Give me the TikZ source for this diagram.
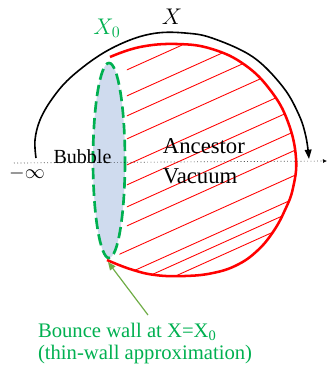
\RequirePackage{fix-cm}
\documentclass[tikz,border=0pt]{standalone}
\usepackage{fontspec}
\setmainfont{Liberation Serif}
\usetikzlibrary{arrows.meta}
\definecolor{redc}{HTML}{FF0000}
\definecolor{greenc}{HTML}{00B050}
\definecolor{olivec}{HTML}{70AD47}
\definecolor{bluefill}{HTML}{CFDBEE}
\tikzset{
  redarc/.style={draw=redc, line width=1.9pt},
  hatchline/.style={draw=redc, line width=0.65pt},
  greendash/.style={draw=greenc, line width=2pt, dash pattern=on 8.5pt off 4pt},
  blackarc/.style={draw=black, line width=1.2pt},
  axisline/.style={draw=black, line width=0.5pt, dotted},
  wallarrow/.style={draw=olivec, line width=0.9pt, -{Triangle[length=6pt,width=5pt]}},
  lbl/.style={inner sep=0pt, outer sep=0pt},
  greentext/.style={lbl, text=greenc, font=\fontsize{15.5}{18}\selectfont, anchor=base west},
}
\def\redpts{(110,57) (140,47) (177,44) (212,49) (245,65) (271,91) (288,122) (296,158) (293,188) (285,210) (273,232) (257,251) (237,265) (213,273) (185,276) (155,275) (130,269) (107,260)}
\begin{document}
\begin{tikzpicture}[x=0.75pt,y=-0.75pt]
\useasboundingbox (0,0) rectangle (327,369);
% bubble fill
\fill[bluefill] (109,160.5) ellipse [x radius=16, y radius=97.5];
% hatching
\begin{scope}
  \clip plot[smooth,tension=0.7] coordinates {\redpts} -- cycle;
  \clip (127,0) -- (400,0) -- (400,400) -- (108,400) -- (113,268) -- (119,256) -- (127,230) -- cycle;
  \foreach \k in {127,153,173,196,222,242,264,283,308,331,343,355}
    \draw[hatchline] (100,{\k-45}) -- (320,{\k-144});
\end{scope}
% red wall
\draw[redarc] plot[smooth,tension=0.7] coordinates {\redpts};
% green dashed bubble wall
\draw[greendash] (109,160.5) ellipse [x radius=16, y radius=97.5];
% dotted axis
\coordinate (axL) at (14,163);
\coordinate (axR) at (327,161);
\draw[axisline, -{Latex[length=3pt,width=3pt]}] (axL) -- (axR);
% black X arc
\draw[blackarc, -{Triangle[length=7pt,width=5pt]}] plot[smooth,tension=0.6] coordinates {(36,158) (35,140) (40,120) (52,99) (70,78) (100,55) (130,40) (157,33) (185,33) (212,38) (253,57) (283,87) (299,115) (306,137) (309,159)};
% labels
\node[lbl, font=\fontsize{17}{20}\selectfont] (X) at (172,17) {$X$};
\node[lbl, text=greenc, font=\fontsize{17}{20}\selectfont] (X0) at (107,28) {$X_0$};
\node[lbl, font=\fontsize{15}{18}\selectfont, anchor=base] (bubble) at (82.5,163) {Bubble};
\node[lbl, font=\fontsize{17}{20}\selectfont, anchor=base west] (anc) at (163,153) {Ancestor};
\node[lbl, font=\fontsize{17}{20}\selectfont, anchor=base west] (vac) at (163,183) {Vacuum};
\node[lbl, font=\fontsize{15}{18}\selectfont] (minf) at (27,173) {$-\infty$};
\node[greentext] (wall1) at (38,337) {Bounce wall at X=X\textsubscript{0}};
\node[greentext] (wall2) at (38,359) {(thin-wall approximation)};
% wall arrow
\coordinate (wallTip) at (108,262);
\coordinate (wallStart) at (148,315);
\draw[wallarrow] (wallStart) -- (wallTip);
\end{tikzpicture}
\end{document}
